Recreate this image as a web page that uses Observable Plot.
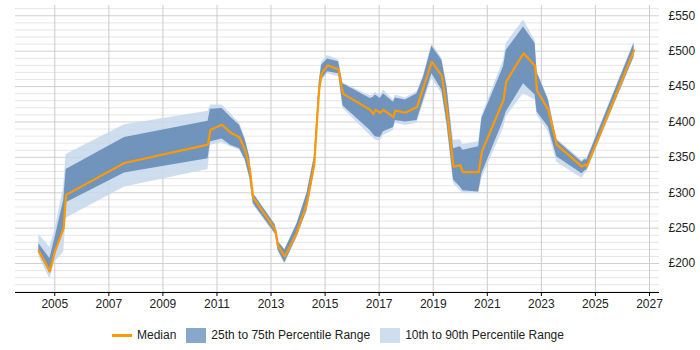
<!DOCTYPE html>
<html>
<head>
<meta charset="utf-8">
<script src="https://cdn.jsdelivr.net/npm/d3@7"></script>
<script src="https://cdn.jsdelivr.net/npm/@observablehq/plot@0.6"></script>
<style>
  html, body { margin: 0; padding: 0; background: #fff; }
  #wrap { width: 700px; height: 350px; position: relative; }
  #legend {
    position: absolute; left: 112px; top: 327px; height: 16px;
    display: flex; align-items: center;
    font-family: "Liberation Sans", Arial, sans-serif;
    font-size: 12px; color: #222; white-space: nowrap;
  }
  .line { width: 20px; height: 3px; background: #ff9900; margin-right: 5px; }
  .sw { width: 20px; height: 15px; margin-right: 5px; }
  .item { display: flex; align-items: center; margin-right: 10px; }
</style>
</head>
<body>
<div id="wrap">
  <div id="chart"></div>
  <div id="legend">
    <div class="item"><div class="line"></div><span>Median</span></div>
    <div class="item"><div class="sw" style="background:#88a8c9"></div><span>25th to 75th Percentile Range</span></div>
    <div class="item"><div class="sw" style="background:#cfdeee"></div><span>10th to 90th Percentile Range</span></div>
  </div>
</div>
<script>
// Daily rate percentiles over time (GBP)
const years = [2004.41, 2004.82, 2005.0, 2005.33, 2005.42, 2007.58, 2010.67, 2010.76, 2011.19, 2011.5,
  2011.84, 2012.05, 2012.21, 2012.34, 2013.16, 2013.26, 2013.51, 2013.96, 2014.33, 2014.6,
  2014.7, 2014.78, 2014.87, 2015.09, 2015.5, 2015.66, 2016.67, 2016.79, 2016.86, 2017.04,
  2017.16, 2017.53, 2017.6, 2017.97, 2018.4, 2018.64, 2018.95, 2019.32, 2019.51, 2019.75,
  2020.0, 2020.1, 2020.68, 2020.8, 2021.6, 2021.7, 2022.34, 2022.77, 2022.84, 2023.26,
  2023.57, 2024.5, 2024.62, 2024.68, 2026.43];

const p10 = [210, 178, 202, 216, 264, 308, 333, 367, 371, 365,
  360, 344, 320, 283, 240, 217, 199, 236, 273, 329,
  388, 433, 457, 468, 464, 419, 381, 377, 374, 373,
  381, 388, 398, 395, 398, 426, 461, 440, 393, 313,
  303, 300, 299, 320, 391, 407, 440, 431, 409, 386,
  343, 320, 327, 329, 490];

const p25 = [215, 186, 212, 247, 286, 328, 348, 372, 376, 367,
  362, 346, 322, 285, 242, 219, 201, 238, 275, 331,
  390, 436, 460, 471, 468, 423, 388, 382, 379, 378,
  386, 392, 402, 400, 402, 431, 468, 445, 398, 318,
  308, 303, 301, 327, 402, 414, 454, 438, 414, 393,
  351, 327, 331, 332, 492];

const median = [218, 189, 216, 250, 297, 342, 368, 389, 396, 385,
  378, 359, 335, 293, 248, 225, 210, 244, 285, 340,
  400, 445, 468, 480, 474, 440, 417, 411, 417, 413,
  417, 407, 416, 413, 421, 449, 485, 465, 416, 337,
  339, 329, 329, 358, 431, 457, 497, 479, 444, 417,
  368, 337, 340, 337, 501];

const p75 = [228, 207, 235, 289, 333, 378, 401, 418, 419, 407,
  395, 374, 350, 299, 254, 231, 219, 256, 299, 350,
  410, 455, 480, 489, 485, 454, 433, 435, 438, 433,
  440, 428, 434, 431, 440, 463, 507, 487, 449, 362,
  365, 360, 365, 405, 478, 501, 534, 511, 470, 431,
  374, 343, 347, 346, 511];

const p90 = [241, 223, 247, 308, 354, 396, 415, 424, 424, 412,
  398, 376, 352, 300, 256, 232, 220, 257, 300, 352,
  412, 458, 484, 494, 488, 455, 437, 438, 442, 437,
  445, 431, 438, 434, 443, 466, 511, 490, 452, 374,
  375, 368, 372, 409, 487, 511, 544, 515, 472, 433,
  376, 346, 349, 348, 513];

const xTicks = [2005, 2007, 2009, 2011, 2013, 2015, 2017, 2019, 2021, 2023, 2025, 2027];
const yTicks = [200, 250, 300, 350, 400, 450, 500, 550];
const yMinor = d3.range(160, 561, 10).filter(v => v % 50 !== 0);

const rows = years.map((t, i) => ({
  t, p10: p10[i], p25: p25[i], median: median[i], p75: p75[i], p90: p90[i]
}));

const yMin = 159.1;

const chart = Plot.plot({
  width: 700,
  height: 315,
  marginLeft: 15,
  marginRight: 41,
  marginTop: 5,
  marginBottom: 23,
  style: { fontFamily: "'Liberation Sans', Arial, sans-serif", fontSize: "12px", color: "#222", background: "#fff" },
  x: { domain: [2003.547, 2027.37] },
  y: { domain: [yMin, 564.5] },
  marks: [
    Plot.gridY(yMinor, { stroke: "#e6e6e6", strokeOpacity: 1 }),
    Plot.gridY(yTicks, { stroke: "#d0d0d0", strokeOpacity: 1 }),
    Plot.gridX(xTicks, { stroke: "#cccccc", strokeOpacity: 1 }),
    Plot.areaY(rows, { x: "t", y1: "p10", y2: "p90", fill: "#c6d8ec", fillOpacity: 0.85 }),
    Plot.areaY(rows, { x: "t", y1: "p25", y2: "p75", fill: "#527bab", fillOpacity: 0.75 }),
    Plot.line(rows, { x: "t", y: "median", stroke: "#ff9900", strokeWidth: 2.2 }),
    Plot.ruleY([yMin], { stroke: "#000", strokeWidth: 1 }),
    Plot.axisX(xTicks, { tickFormat: d => String(d), tickSize: 4, tickPadding: 3, stroke: "#000", label: null }),
    Plot.axisY(yTicks, { anchor: "right", tickSize: 0, tickPadding: 9, tickFormat: d => "£" + d, label: null })
  ]
});

document.getElementById("chart").appendChild(chart);
</script>
</body>
</html>
